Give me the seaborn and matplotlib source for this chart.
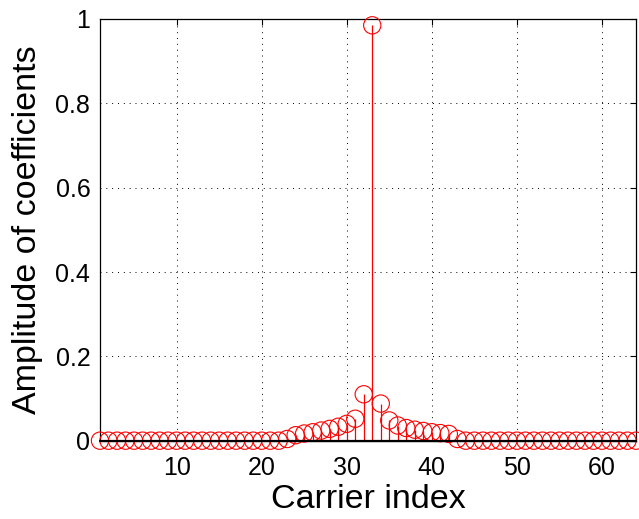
import numpy as np
import pandas as pd
import matplotlib
matplotlib.use("Agg")
import matplotlib.pyplot as plt
import seaborn as sns

# Carrier indices and coefficient amplitudes
carrier = list(range(1, 65))
amplitude = (
    [0.0] * 22
    + [0.004, 0.013, 0.017, 0.020, 0.024, 0.028, 0.033, 0.040, 0.052, 0.110,
       0.985,
       0.088, 0.048, 0.036, 0.030, 0.026, 0.023, 0.020, 0.018, 0.016, 0.004]
    + [0.0] * 21
)
x_ticks = [10, 20, 30, 40, 50, 60]
y_ticks = [0, 0.2, 0.4, 0.6, 0.8, 1]
y_tick_labels = ["0", "0.2", "0.4", "0.6", "0.8", "1"]

df = pd.DataFrame({"carrier": carrier, "amplitude": amplitude})

sns.set_style("white")
plt.rcParams["font.family"] = ["Liberation Sans", "DejaVu Sans"]
plt.rcParams["text.color"] = "black"
plt.rcParams["axes.labelcolor"] = "black"

fig = plt.figure(figsize=(6.39, 5.19), dpi=100)
ax = fig.add_axes([0.1565, 0.1509, 0.8388, 0.8125])

# stems
ax.vlines(df["carrier"], 0, df["amplitude"], color="red", lw=0.9, zorder=2)
# open circle heads
sns.scatterplot(data=df, x="carrier", y="amplitude", ax=ax, marker="o",
                s=155, facecolors="none", edgecolor="red", linewidth=0.8,
                zorder=3, clip_on=False, legend=False)
# baseline
ax.axhline(0, color="black", lw=1.6, zorder=4, clip_on=False)

ax.set_xlim(1, 64)
ax.set_ylim(0, 1)
ax.set_xticks(x_ticks)
ax.set_yticks(y_ticks)
ax.set_yticklabels(y_tick_labels)
ax.tick_params(direction="in", length=4, width=0.8, labelsize=18,
               colors="black", labelcolor="black", top=True, right=True, pad=7)
ax.tick_params(axis="x", pad=11)
ax.grid(True, color="black", linestyle=(0, (1, 5)), linewidth=0.7)
for sp in ax.spines.values():
    sp.set_visible(True)
    sp.set_color("black")
    sp.set_linewidth(0.9)

ax.set_xlabel("Carrier index", fontsize=24.5, labelpad=3)
ax.set_ylabel("Amplitude of coefficients", fontsize=24.5, labelpad=9)

fig.savefig("out.png", dpi=100)
